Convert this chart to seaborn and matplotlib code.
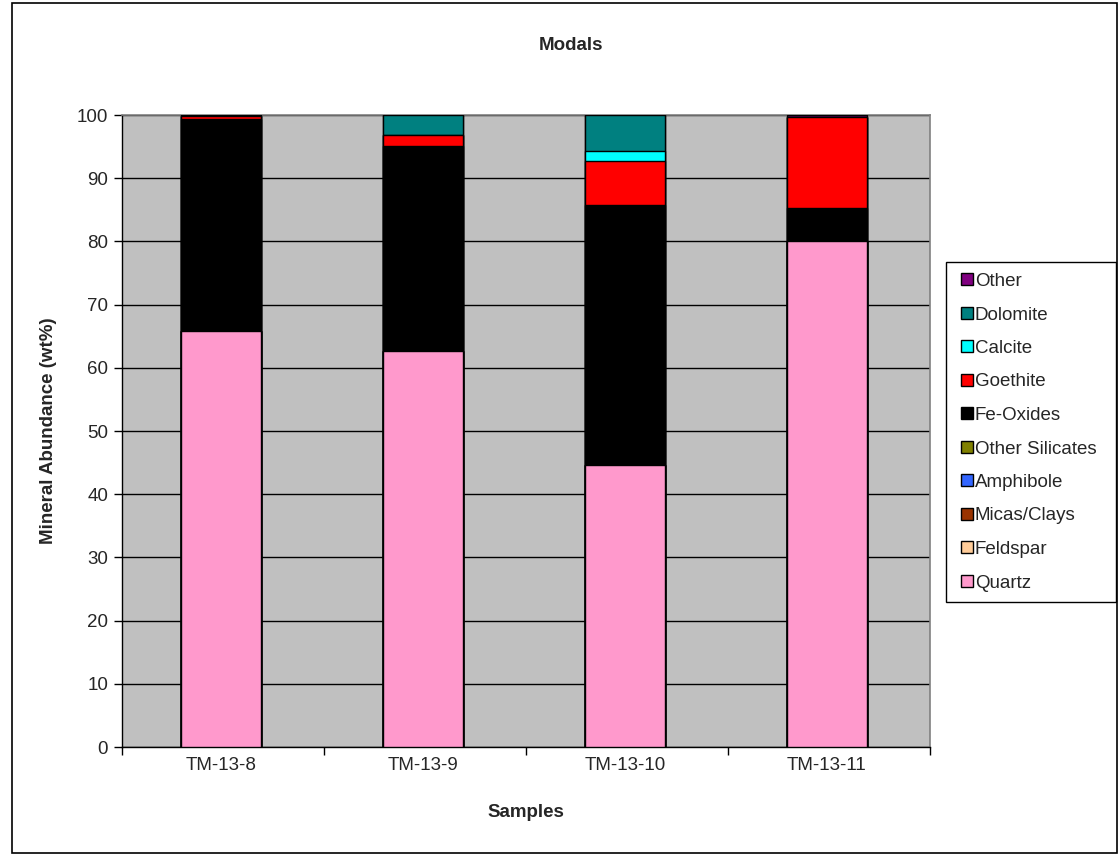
import numpy as np
import pandas as pd
import matplotlib
matplotlib.use("Agg")
import matplotlib.pyplot as plt
from matplotlib.patches import Patch, Rectangle
import seaborn as sns

samples = ["TM-13-8", "TM-13-9", "TM-13-10", "TM-13-11"]

# Mineral abundances (wt%), stacked bottom to top
quartz = [65.9, 62.7, 44.6, 80.0]
feldspar = [0.0, 0.0, 0.0, 0.0]
micas_clays = [0.0, 0.0, 0.0, 0.0]
amphibole = [0.0, 0.0, 0.0, 0.0]
other_silicates = [0.0, 0.0, 0.0, 0.0]
fe_oxides = [33.5, 32.4, 41.2, 5.3]
goethite = [0.4, 1.7, 6.9, 14.4]
calcite = [0.0, 0.0, 1.6, 0.0]
dolomite = [0.0, 3.2, 5.7, 0.0]
other = [0.2, 0.0, 0.0, 0.3]

minerals = ["Quartz", "Feldspar", "Micas/Clays", "Amphibole", "Other Silicates",
            "Fe-Oxides", "Goethite", "Calcite", "Dolomite", "Other"]
values = [quartz, feldspar, micas_clays, amphibole, other_silicates,
          fe_oxides, goethite, calcite, dolomite, other]
colors = ["#FF99CC", "#FFCC99", "#993300", "#3366FF", "#808000",
          "#000000", "#FF0000", "#00FFFF", "#008080", "#800080"]

sns.set_style("white")
plt.rcParams["font.family"] = ["Liberation Sans", "DejaVu Sans"]

FS = 13.5

df = pd.DataFrame(np.array(values).T, columns=minerals)
df["Sample"] = samples
cum = df[minerals].cumsum(axis=1)

fig = plt.figure(figsize=(11.2, 8.55), dpi=100)
ax = fig.add_axes([122 / 1120, 1 - 747 / 855, 808 / 1120, 632 / 855])
ax.set_facecolor("#C0C0C0")

# Draw cumulative tops from highest layer down so each segment shows its own colour
for name, col in reversed(list(zip(minerals, colors))):
    layer = pd.DataFrame({"Sample": samples, "top": cum[name].values})
    sns.barplot(data=layer, x="Sample", y="top", color=col, saturation=1,
                width=0.4, edgecolor="black", linewidth=1.0, ax=ax, zorder=3)

ax.set_ylim(0, 100)
ax.set_xlim(-0.49, 3.51)
ax.set_yticks(np.arange(0, 101, 10))
ax.yaxis.grid(True, color="black", linewidth=1.0, zorder=1)
ax.set_axisbelow(True)
ax.tick_params(axis="y", direction="out", length=6, width=1, color="black",
               labelsize=FS, left=True, pad=4)
ax.tick_params(axis="x", which="major", length=0, labelsize=FS, pad=7)
ax.set_xticks(np.arange(-0.49, 3.6, 1.0), minor=True)
ax.tick_params(axis="x", which="minor", direction="out", length=6, width=1,
               color="black", bottom=True)

for side in ["top", "right"]:
    ax.spines[side].set_color("#808080")
    ax.spines[side].set_linewidth(1.2)
for side in ["left", "bottom"]:
    ax.spines[side].set_color("black")
    ax.spines[side].set_linewidth(1.0)

ax.set_xlabel("Samples", fontsize=FS, fontweight="bold", labelpad=22)
ax.set_ylabel("Mineral Abundance (wt%)", fontsize=FS, fontweight="bold", labelpad=14)
fig.text(571 / 1120, 1 - 45 / 855, "Modals", ha="center", va="center",
         fontsize=FS, fontweight="bold")

# Legend entries (top to bottom) with a separate box around them
handles = [Patch(facecolor=c, edgecolor="black", linewidth=1.0, label=m)
           for m, c in zip(minerals, colors)][::-1]
leg = fig.legend(handles=handles, loc="upper left",
                 bbox_to_anchor=(961 / 1120, 1 - 273 / 855),
                 frameon=False, fontsize=FS,
                 handlelength=0.62, handleheight=0.62, handletextpad=0.12,
                 labelspacing=0.88, borderpad=0.0, borderaxespad=0)
fig.patches.append(Rectangle((946 / 1120, 1 - 602 / 855), 170 / 1120, 340 / 855,
                             transform=fig.transFigure, facecolor="white",
                             edgecolor="black", linewidth=1.0, zorder=0))

# Outer chart frame
fig.patches.append(Rectangle((12 / 1120, 2 / 855), 1105 / 1120, 850 / 855,
                             transform=fig.transFigure, fill=False,
                             edgecolor="black", linewidth=1.2))

fig.savefig("out.png", dpi=100, facecolor="white")
